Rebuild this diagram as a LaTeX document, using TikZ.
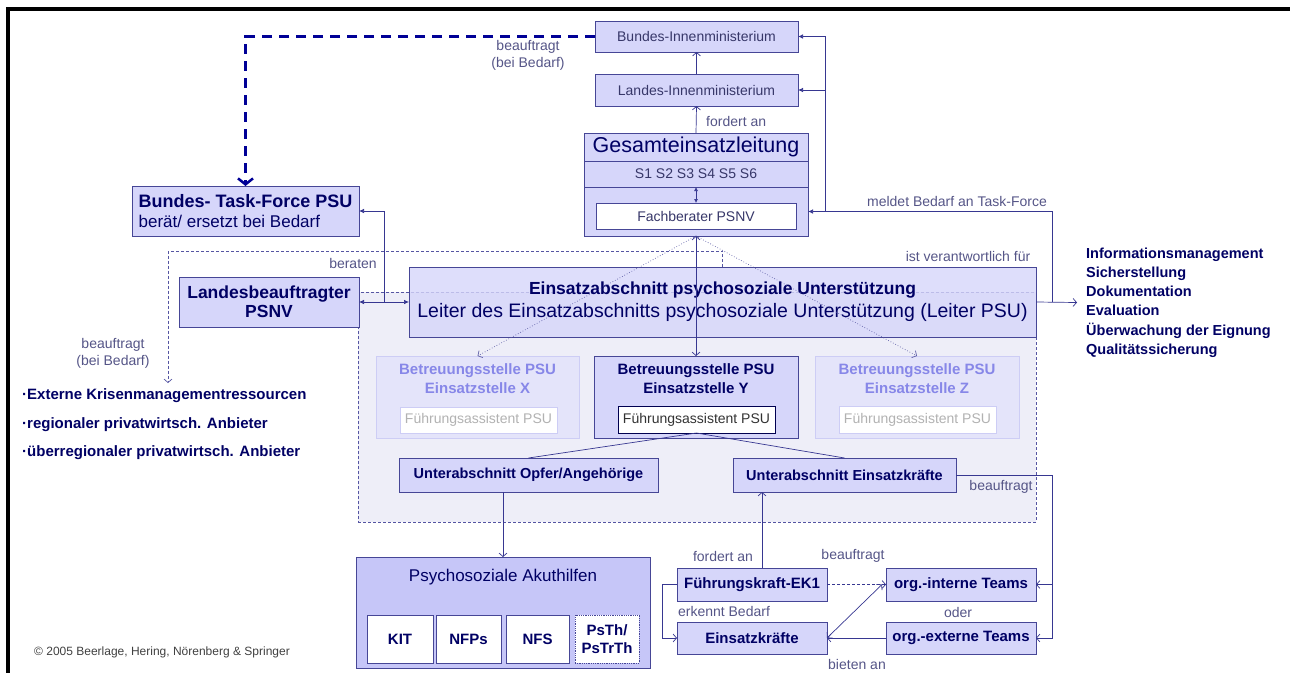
\documentclass[tikz,border=0pt]{standalone}
\usepackage{fontspec}
\setmainfont{Liberation Sans}
\definecolor{lav}{RGB}{214,214,250}
\definecolor{lavdeep}{RGB}{198,198,248}
\definecolor{fadelav}{RGB}{228,228,250}
\definecolor{pale}{RGB}{238,238,248}
\definecolor{edge}{RGB}{70,70,150}
\definecolor{fadeedge}{RGB}{205,205,245}
\definecolor{navy}{RGB}{0,0,100}
\definecolor{ink}{RGB}{55,55,105}
\definecolor{gtxt}{RGB}{85,85,135}
\definecolor{fadetxt}{RGB}{135,135,232}
\definecolor{wire}{RGB}{55,55,145}
\definecolor{dashblue}{RGB}{0,0,150}
\usetikzlibrary{arrows.meta,positioning}
\tikzset{
  box/.style={draw=edge,line width=0.8pt,fill=lav,inner sep=0pt,outer sep=0pt,
              anchor=north west,align=center,text=ink,font=\fontsize{14}{17}\selectfont},
  boldbox/.style={box,text=navy,font=\bfseries\fontsize{15}{18}\selectfont},
  wbox/.style={box,fill=white},
  fadebox/.style={box,draw=fadeedge,fill=fadelav},
  btxt/.style={inner sep=0pt,align=center,font=\bfseries\fontsize{15}{19}\selectfont},
  lbl/.style={inner sep=0pt,align=center,text=gtxt,font=\fontsize{14}{17}\selectfont},
  wire/.style={draw=wire,line width=0.7pt},
  oarr/.style={wire,-{Straight Barb[length=3.5pt,width=8pt]}},
  oboth/.style={wire,{Straight Barb[length=3.5pt,width=8pt]}-{Straight Barb[length=3.5pt,width=8pt]}},
  farr/.style={wire,-{Latex[length=5pt,width=4.5pt]}},
  fboth/.style={wire,{Latex[length=5pt,width=4.5pt]}-{Latex[length=5pt,width=4.5pt]}},
  dotarr/.style={oarr,draw=wire!80,dotted},
  dasharr/.style={oarr,draw=wire!85,dash pattern=on 3pt off 2pt},
  bigdash/.style={draw=dashblue,line width=2.5pt,dash pattern=on 10pt off 7pt,
                  -{Straight Barb[length=6pt,width=15pt]}},
  region/.style={draw=wire!85,line width=0.7pt,dash pattern=on 3pt off 2pt,fill=pale,
                 anchor=north west,inner sep=0pt,outer sep=0pt},
}

\begin{document}
\begin{tikzpicture}[x=1pt,y=-1pt]
  \useasboundingbox (0,0) rectangle (1290,672);
  \draw[line width=3.5pt] (8,9) rectangle (1310,700);

  % region of the Einsatzabschnitt
  \node[region,minimum width=678pt,minimum height=230pt] (psu) at (358,292) {};

  % ministries and Gesamteinsatzleitung
  \node[box,minimum width=203pt,minimum height=31pt] (bim) at (595,21) {Bundes-Innenministerium};
  \node[box,minimum width=203pt,minimum height=32pt] (lim) at (595,74) {Landes-Innenministerium};
  \node[box,minimum width=224pt,minimum height=28pt,text=navy,font=\fontsize{21.5}{24}\selectfont] (gelhead) at (584,133) {Gesamteinsatzleitung};
  \node[box,minimum width=224pt,minimum height=26pt] (gels) at (584,161) {S1 S2 S3 S4 S5 S6};
  \node[box,minimum width=224pt,minimum height=49pt] (gelbody) at (584,187) {};
  \node[wbox,minimum width=200pt,minimum height=26pt] (fbp) at (596,203) {Fachberater PSNV};

  % Task-Force and Landesbeauftragter
  \node[box,minimum width=227pt,minimum height=50pt,align=left,text=navy,font=\fontsize{17}{20}\selectfont] (tf) at (132,186)
    {{\bfseries\fontsize{18}{20}\selectfont Bundes- Task-Force PSU}\\berät/ ersetzt bei Bedarf};
  \node[boldbox,minimum width=180pt,minimum height=50pt,font=\bfseries\fontsize{17.5}{19}\selectfont] (lbp) at (179,277) {Landesbeauftragter\\PSNV};

  % Einsatzabschnitt
  \node[box,fill opacity=0.8,text opacity=1,minimum width=627pt,minimum height=70pt,text=navy,font=\fontsize{19.5}{23}\selectfont] (eap) at (409,267)
    {{\bfseries\fontsize{17.5}{23}\selectfont Einsatzabschnitt psychosoziale Unterstützung}\\Leiter des Einsatzabschnitts psychosoziale Unterstützung (Leiter PSU)};

  % Betreuungsstellen
  \node[fadebox,minimum width=203pt,minimum height=82pt] (bsx) at (376,356) {};
  \node[btxt,text=fadetxt,anchor=north,below=7pt of bsx.north] (bsxt) {Betreuungsstelle PSU\\Einsatzstelle X};
  \node[wbox,draw=fadeedge,text=black!30,minimum width=157pt,minimum height=26pt] (fax) at (400,407) {Führungsassistent PSU};
  \node[box,minimum width=204pt,minimum height=82pt] (bsy) at (594,356) {};
  \node[btxt,text=navy,anchor=north,below=7pt of bsy.north] (bsyt) {Betreuungsstelle PSU\\Einsatzstelle Y};
  \node[wbox,draw=navy!80!black,text=black!80,minimum width=157pt,minimum height=27pt] (fay) at (618,406) {Führungsassistent PSU};
  \node[fadebox,minimum width=204pt,minimum height=82pt] (bsz) at (815,356) {};
  \node[btxt,text=fadetxt,anchor=north,below=7pt of bsz.north] (bszt) {Betreuungsstelle PSU\\Einsatzstelle Z};
  \node[wbox,draw=fadeedge,text=black!30,minimum width=157pt,minimum height=27pt] (faz) at (839,406) {Führungsassistent PSU};

  % Unterabschnitte
  \node[boldbox,font=\bfseries\fontsize{14.5}{17}\selectfont,minimum width=259pt,minimum height=34pt] (uop) at (399,458) {Unterabschnitt Opfer/Angehörige};
  \node[boldbox,font=\bfseries\fontsize{14.5}{17}\selectfont,minimum width=223pt,minimum height=34pt] (uek) at (733,458) {Unterabschnitt Einsatzkräfte};

  % Psychosoziale Akuthilfen
  \node[box,fill=lavdeep,minimum width=294pt,minimum height=111pt] (pah) at (356,557) {};
  \node[lbl,text=navy,font=\fontsize{17}{20}\selectfont] (paht) at (503,577) {Psychosoziale Akuthilfen};
  \node[wbox,boldbox,fill=white,minimum width=66pt,minimum height=48pt] (kit) at (367,615) {KIT};
  \node[wbox,boldbox,fill=white,minimum width=65pt,minimum height=48pt] (nfp) at (436,615) {NFPs};
  \node[wbox,boldbox,fill=white,minimum width=63pt,minimum height=48pt] (nfs) at (506,615) {NFS};
  \node[wbox,boldbox,fill=white,densely dotted,minimum width=64pt,minimum height=48pt] (pst) at (575,615) {PsTh/\\PsTrTh};

  % Einsatzkräfte and Teams
  \node[boldbox,minimum width=150pt,minimum height=33pt] (fek) at (677,568) {Führungskraft-EK1};
  \node[boldbox,minimum width=150pt,minimum height=32pt] (ek) at (677,622) {Einsatzkräfte};
  \node[boldbox,minimum width=150pt,minimum height=33pt] (oit) at (886,568) {org.-interne Teams};
  \node[boldbox,minimum width=150pt,minimum height=32pt] (oet) at (886,622) {org.-externe Teams};

  % lists
  \node[anchor=west,align=left,inner sep=0pt,text=navy,font=\bfseries\fontsize{14.5}{19.2}\selectfont] (info) at (1086,302.5)
    {Informationsmanagement\\Sicherstellung\\Dokumentation\\Evaluation\\Überwachung der Eignung\\Qualitätssicherung};
  \node[anchor=west,align=left,inner sep=0pt,text=navy,font=\bfseries\fontsize{15}{28.5}\selectfont] (ext) at (22,424.5)
    {·Externe Krisenmanagementressourcen\\·regionaler privatwirtsch. Anbieter\\·überregionaler privatwirtsch. Anbieter};
  \node[lbl,text=black!75,font=\fontsize{12}{14}\selectfont] (copy) at (162,652) {© 2005 Beerlage, Hering, Nörenberg \& Springer};

  % helper coordinates
  \coordinate (vx) at (825,0);
  \coordinate (mx) at (1052,0);
  \coordinate (tx) at (384,0);
  \coordinate (bx) at (0,251);
  \coordinate (extin) at (168,383);

  % connectors
  \draw[bigdash] (bim.west) -| (tf.north);
  \node[lbl] (l1) at (528,55) {beauftragt\\(bei Bedarf)};
  \draw[oarr] (lim.north) -- (bim.south);
  \draw[oarr] (gelhead.north) -- (lim.south);
  \node[lbl,anchor=west] (l2) at (706,121) {fordert an};
  \draw[wire,{Latex[length=4pt,width=4pt]}-{Latex[length=4pt,width=4pt]}] (gels.south) -- (fbp.north);

  \draw[farr] (eap.east -| mx) |- (gelbody.east);
  \draw[farr] (gelbody.east -| vx) |- (lim.east);
  \draw[farr] (lim.east -| vx) |- (bim.east);
  \draw[oarr] (eap.east) -- ([xshift=-9pt]info.west);
  \node[lbl] (l3) at (957,201) {meldet Bedarf an Task-Force};
  \node[lbl] (l4) at (968,256) {ist verantwortlich für};

  \draw[fboth] (lbp.east) -- (eap.west);
  \draw[farr] (lbp.east -| tx) |- (tf.east);
  \draw[dasharr] (eap.north) -- (eap.north |- bx) -| (extin);
  \node[lbl] (l5) at (353,263) {beraten};
  \node[lbl] (l6) at (113,353) {beauftragt\\(bei Bedarf)};

  \draw[dotarr] (gelbody.south) -- (bsx.north);
  \draw[dotarr] (gelbody.south) -- (bsz.north);
  \draw[oboth] (gelbody.south) -- (bsy.north);
  \draw[wire] (fay.south) -- (uop.north);
  \draw[wire] (fay.south) -- (uek.north);
  \draw[oarr] (pah.north |- uop.south) -- (pah.north);

  \draw[oarr] ([xshift=10pt]fek.north) -- ([xshift=10pt]fek.north |- uek.south);
  \node[lbl] (l7) at (723,556) {fordert an};
  \draw[oarr] (fek.west) -- ++(-15,0) |- (ek.west);
  \node[lbl] (l8) at (724,611) {erkennt Bedarf};
  \draw[oarr,dash pattern=on 3pt off 2pt] (fek.east) -- (oit.west);
  \node[lbl] (l9) at (853,556) {beauftragt};
  \draw[oboth] ([xshift=-4pt]oit.west) -- (ek.east);
  \draw[oarr] (oet.west) -- (ek.east);
  \node[lbl] (l10) at (857,664) {bieten an};
  \node[lbl] (l11) at (958,612) {oder};
  \draw[oarr] (uek.east) -- (uek.east -| mx) |- (oit.east);
  \draw[oarr] (oit.east -| mx) |- (oet.east);
  \node[lbl] (l12) at (1001,487) {beauftragt};
\end{tikzpicture}
\end{document}
